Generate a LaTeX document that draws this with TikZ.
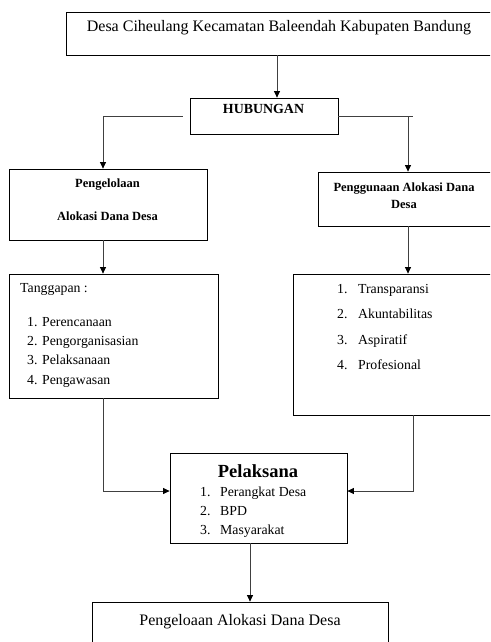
\documentclass[tikz,border=0pt]{standalone}
\usepackage{fontspec}
\setmainfont{Liberation Serif}
\usetikzlibrary{positioning,arrows.meta}

\begin{document}
\begin{tikzpicture}[x=1pt,y=-1pt,>={Triangle[length=6.5pt,width=6pt,color=black]},
  box/.style={draw,line width=0.8pt,inner sep=0pt},
  txt/.style={inner sep=0pt,anchor=base},
  lst/.style={inner sep=0pt,anchor=base west},
  con/.style={draw=black!75,line width=0.8pt}]
  \useasboundingbox (0,0) rectangle (490,642);
  \clip (0,0) rectangle (490,642);
  % kotak
  \node[box,minimum width=464pt,minimum height=43pt] (desa) at (298,33.5) {};
  \node[box,minimum width=148pt,minimum height=36pt] (hub) at (264,116) {};
  \node[box,minimum width=198pt,minimum height=71pt] (kelola) at (108,204.5) {};
  \node[box,minimum width=202pt,minimum height=54pt] (guna) at (419,199) {};
  \node[box,minimum width=209pt,minimum height=124pt] (tangg) at (113.5,336) {};
  \node[box,minimum width=227pt,minimum height=141pt] (krit) at (406.5,344.5) {};
  \node[box,minimum width=177pt,minimum height=90pt] (pel) at (258.5,498) {};
  \node[box,minimum width=296pt,minimum height=58pt] (hasil) at (240,631) {};
  % teks
  \node[txt,font=\fontsize{16}{19}\selectfont] (tdesa) at (279,32) {Desa Ciheulang Kecamatan Baleendah Kabupaten Bandung};
  \node[txt,font=\fontsize{13.9}{16}\selectfont\bfseries] (thub) at (263.5,113) {HUBUNGAN};
  \node[txt,font=\fontsize{12.5}{32.3}\selectfont\bfseries] (tkelola) at (107.5,187.7)
    {\begin{tabular}[t]{@{}c@{}}Pengelolaan\\ Alokasi Dana Desa\end{tabular}};
  \node[txt,font=\fontsize{12.5}{17}\selectfont\bfseries] (tguna) at (404,191)
    {\begin{tabular}[t]{@{}c@{}}Penggunaan Alokasi Dana\\ Desa\end{tabular}};
  \node[lst,font=\fontsize{13.8}{19}\selectfont] (ttangg) at (20,292.5) {Tanggapan :};
  \node[lst,font=\fontsize{13.8}{19.4}\selectfont] (ltangg) at (27,326)
    {\begin{tabular}[t]{@{}l@{\hspace{4.6pt}}l@{}}1. & Perencanaan\\ 2. & Pengorganisasian\\ 3. & Pelaksanaan\\ 4. & Pengawasan\end{tabular}};
  \node[lst,font=\fontsize{13.8}{25.6}\selectfont] (lkrit) at (337,293)
    {\begin{tabular}[t]{@{}l@{\hspace{10.6pt}}l@{}}1. & Transparansi\\ 2. & Akuntabilitas\\ 3. & Aspiratif\\ 4. & Profesional\end{tabular}};
  \node[txt,font=\fontsize{18.5}{22}\selectfont\bfseries] (tpel) at (258,477) {Pelaksana};
  \node[lst,font=\fontsize{13.8}{19}\selectfont] (lpel) at (200,496)
    {\begin{tabular}[t]{@{}l@{\hspace{9.6pt}}l@{}}1. & Perangkat Desa\\ 2. & BPD\\ 3. & Masyarakat\end{tabular}};
  \node[txt,font=\fontsize{16}{19}\selectfont] (thasil) at (240,625) {Pengeloaan Alokasi Dana Desa};
  % penghubung
  \coordinate (cM) at (277,0);
  \coordinate (cL) at (103,0);
  \coordinate (cR) at (408,0);
  \coordinate (cR2) at (413,0);
  \coordinate (cB) at (250,0);
  \draw[con,->] (cM |- desa.south) -- (cM |- hub.north);
  \draw[con,->] ([xshift=-7pt]hub.west) -| (cL |- kelola.north);
  \draw[con] (hub.east) -- (cR2 |- hub.east);
  \draw[con,->] (cR |- hub.east) -- (cR |- guna.north);
  \draw[con,->] (cL |- kelola.south) -- (cL |- tangg.north);
  \draw[con,->] (cR |- guna.south) -- (cR |- krit.north);
  \draw[con,->] (cL |- tangg.south) |- ([yshift=7pt]pel.west);
  \draw[con,->] (cR2 |- krit.south) |- ([yshift=7pt]pel.east);
  \draw[con,->] (cB |- pel.south) -- (cB |- hasil.north);
\end{tikzpicture}
\end{document}
